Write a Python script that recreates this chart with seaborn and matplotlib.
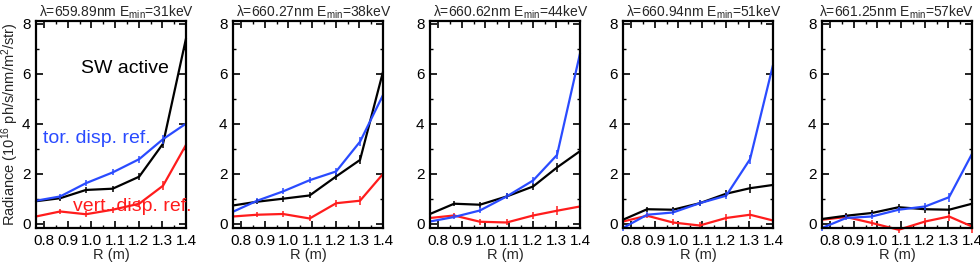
import numpy as np
import pandas as pd
import matplotlib
matplotlib.use("Agg")
import matplotlib.pyplot as plt
from matplotlib.ticker import MultipleLocator
import seaborn as sns

# major radius of the sight lines (m)
R = [0.766, 0.868, 0.977, 1.090, 1.202, 1.303, 1.400]

WAVELENGTHS = ["659.89", "660.27", "660.62", "660.94", "661.25"]
EMIN = ["31", "38", "44", "51", "57"]

# radiance, one list per panel (10^16 ph/s/nm/m^2/str)
sw_active = [
    [0.90, 1.02, 1.35, 1.40, 1.88, 3.20, 7.40],
    [0.73, 0.88, 1.00, 1.13, 1.89, 2.55, 6.07],
    [0.39, 0.80, 0.76, 1.09, 1.49, 2.25, 2.90],
    [0.16, 0.58, 0.56, 0.82, 1.20, 1.42, 1.55],
    [0.19, 0.32, 0.43, 0.66, 0.58, 0.56, 0.80],
]
tor_ref = [
    [0.92, 1.09, 1.62, 2.05, 2.58, 3.38, 4.00],
    [0.48, 0.92, 1.29, 1.74, 2.09, 3.28, 5.14],
    [0.09, 0.27, 0.53, 1.09, 1.73, 2.75, 6.80],
    [-0.17, 0.36, 0.45, 0.82, 1.12, 2.58, 6.34],
    [-0.17, 0.23, 0.29, 0.56, 0.69, 1.06, 2.79],
]
vert_ref = [
    [0.29, 0.49, 0.38, 0.56, 0.80, 1.52, 3.15],
    [0.29, 0.36, 0.39, 0.21, 0.82, 0.92, 1.99],
    [0.23, 0.33, 0.08, 0.05, 0.33, 0.52, 0.69],
    [0.09, 0.32, 0.05, -0.07, 0.23, 0.36, 0.13],
    [0.16, 0.27, 0.03, -0.24, 0.09, 0.29, -0.11],
]
# typical error bar half-height
ERR = [0.10, 0.10, 0.12, 0.12, 0.14, 0.18, 0.26]

SERIES = ["vert", "sw", "tor"]
COLORS = {"sw": "black", "tor": "#2a4bff", "vert": "#ff1c1c"}

sns.set_theme(style="ticks")
plt.rcParams["font.family"] = ["Liberation Sans", "DejaVu Sans"]
plt.rcParams["mathtext.fontset"] = "custom"
plt.rcParams["mathtext.rm"] = "Liberation Sans"
plt.rcParams["mathtext.it"] = "Liberation Sans:italic"

fig = plt.figure(figsize=(9.8, 2.64), dpi=100)
lefts = [36, 233, 430, 623, 822]

for i in range(5):
    ax = fig.add_axes([lefts[i] / 980, 1 - 228 / 264, 150 / 980, 207 / 264])
    rows = []
    for name, data in [("sw", sw_active), ("vert", vert_ref), ("tor", tor_ref)]:
        for r, v in zip(R, data[i]):
            rows.append({"R": r, "rad": v, "series": name})
    df = pd.DataFrame(rows)
    sns.lineplot(data=df, x="R", y="rad", hue="series", hue_order=SERIES,
                 palette=COLORS, errorbar=None, linewidth=1.6, legend=False,
                 ax=ax, clip_on=False)
    for name, data in [("vert", vert_ref), ("sw", sw_active), ("tor", tor_ref)]:
        ax.errorbar(R, data[i], yerr=ERR, fmt="none", ecolor=COLORS[name],
                    elinewidth=1.1, capsize=0, clip_on=False)

    ax.set_xlim(0.766, 1.40)
    ax.set_ylim(-0.17, 8.1)
    ax.xaxis.set_major_locator(MultipleLocator(0.1))
    ax.xaxis.set_minor_locator(MultipleLocator(0.05))
    ax.yaxis.set_major_locator(MultipleLocator(2))
    ax.yaxis.set_minor_locator(MultipleLocator(1))
    ax.xaxis.set_major_formatter(plt.FuncFormatter(lambda v, p: f"{v:.1f}"))
    ax.tick_params(which="both", direction="in", top=True, right=True,
                   labelsize=11, colors="black", pad=4)
    ax.tick_params(which="major", length=5, width=1.2)
    ax.tick_params(which="minor", length=2.5, width=1.0)
    for sp in ax.spines.values():
        sp.set_linewidth(1.6)
        sp.set_color("black")
    ax.set_xlabel("R (m)", fontsize=10.5, labelpad=0)
    if i == 0:
        ax.set_ylabel(r"Radiance (10$^{16}$ ph/s/nm/m$^2$/str)", fontsize=10.5, labelpad=1)
    else:
        ax.set_ylabel("")
    ax.set_title("λ=" + WAVELENGTHS[i] + r"nm E$_{\mathrm{min}}$=" + EMIN[i] + "keV",
                 fontsize=10, pad=2, x=0.54 if i < 4 else 0.5)

    if i == 0:
        ax.text(1.144, 6.22, "SW active", fontsize=14, color="black",
                ha="center", va="center")
        ax.text(0.797, 3.39, "tor. disp. ref.", fontsize=14, color=COLORS["tor"],
                ha="left", va="center")
        ax.text(0.921, 0.69, "vert. disp. ref.", fontsize=14, color=COLORS["vert"],
                ha="left", va="center", clip_on=False)

fig.savefig("out.png", dpi=100)
